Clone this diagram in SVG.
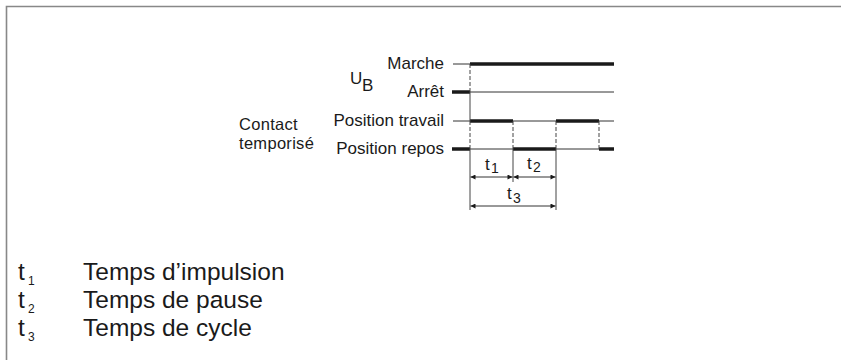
<svg xmlns="http://www.w3.org/2000/svg" width="841" height="360" viewBox="0 0 841 360">
<style>
text{font-family:"Liberation Sans",Arial,sans-serif;fill:#1a1a1a}
.lbl{font-size:17px}
.ct{font-size:16.5px;letter-spacing:0.3px}
.leg{font-size:24.5px}
.sub{font-size:14px}
.lsub{font-size:12px}
.thin{stroke:#333;stroke-width:1;fill:none}
.thick{stroke:#1a1a1a;stroke-width:3.5;fill:none}
.dash{stroke:#444;stroke-width:1;stroke-dasharray:4 2;fill:none}
.ext{stroke:#444;stroke-width:1;fill:none}
.dim{stroke:#333;stroke-width:1;fill:none;marker-start:url(#ah);marker-end:url(#ah)}
</style>
<defs>
<marker id="ah" viewBox="0 0 10 10" refX="10" refY="5" markerWidth="6" markerHeight="5" orient="auto-start-reverse" markerUnits="userSpaceOnUse">
<path d="M0,0 L10,5 L0,10 z" fill="#1a1a1a"/>
</marker>
</defs>
<rect width="841" height="360" fill="#fff"/>
<path d="M6.5,360 V6.5 H841" stroke="#888" stroke-width="1.6" fill="none"/>

<g id="labels">
<text class="lbl" x="444" y="69" text-anchor="end">Marche</text>
<text class="lbl" x="444" y="97" text-anchor="end">Arrêt</text>
<text class="lbl" x="444" y="126" text-anchor="end">Position travail</text>
<text class="lbl" x="444" y="154" text-anchor="end">Position repos</text>
<text class="lbl" x="350" y="84">U</text>
<text class="lbl" x="362" y="91">B</text>
<text class="ct" x="239" y="130">Contact</text>
<text class="ct" x="239" y="149">temporisé</text>
</g>

<g id="signal-ub">
<line class="thin" x1="453" y1="64" x2="614" y2="64"/>
<line class="thick" x1="470" y1="64" x2="614" y2="64"/>
<line class="thin" x1="452" y1="92" x2="614" y2="92"/>
<line class="thick" x1="452" y1="92" x2="470" y2="92"/>
</g>

<g id="signal-contact">
<line class="thin" x1="453" y1="121" x2="614" y2="121"/>
<line class="thick" x1="470" y1="121" x2="513" y2="121"/>
<line class="thick" x1="556" y1="121" x2="599" y2="121"/>
<line class="thin" x1="452" y1="149" x2="614" y2="149"/>
<line class="thick" x1="452" y1="149" x2="470" y2="149"/>
<line class="thick" x1="513" y1="149" x2="556" y2="149"/>
<line class="thick" x1="599" y1="149" x2="614" y2="149"/>
</g>

<g id="connectors">
<line class="dash" x1="470" y1="64" x2="470" y2="92"/>
<line class="ext" x1="470" y1="92" x2="470" y2="121"/>
<line class="dash" x1="470" y1="121" x2="470" y2="149"/>
<line class="ext" x1="470" y1="149" x2="470" y2="210"/>
<line class="dash" x1="513" y1="121" x2="513" y2="149"/>
<line class="ext" x1="513" y1="149" x2="513" y2="182"/>
<line class="dash" x1="556" y1="121" x2="556" y2="149"/>
<line class="ext" x1="556" y1="149" x2="556" y2="210"/>
<line class="dash" x1="599" y1="121" x2="599" y2="149"/>
<line class="dim" x1="470.5" y1="177" x2="512.5" y2="177"/>
<line class="dim" x1="513.5" y1="177" x2="555.5" y2="177"/>
<line class="dim" x1="470.5" y1="206" x2="555.5" y2="206"/>
</g>

<g id="dim-labels">
<text class="lbl" x="485" y="170">t</text><text class="sub" x="491" y="173">1</text>
<text class="lbl" x="527" y="169">t</text><text class="sub" x="533" y="172">2</text>
<text class="lbl" x="507" y="199">t</text><text class="sub" x="513" y="203">3</text>
</g>

<g id="legend">
<text class="leg" x="18" y="280">t</text><text class="lsub" x="28" y="285">1</text>
<text class="leg" x="83" y="280">Temps d’impulsion</text>
<text class="leg" x="18" y="308">t</text><text class="lsub" x="28" y="313">2</text>
<text class="leg" x="83" y="308">Temps de pause</text>
<text class="leg" x="18" y="336">t</text><text class="lsub" x="28" y="341">3</text>
<text class="leg" x="83" y="336">Temps de cycle</text>
</g>
</svg>
